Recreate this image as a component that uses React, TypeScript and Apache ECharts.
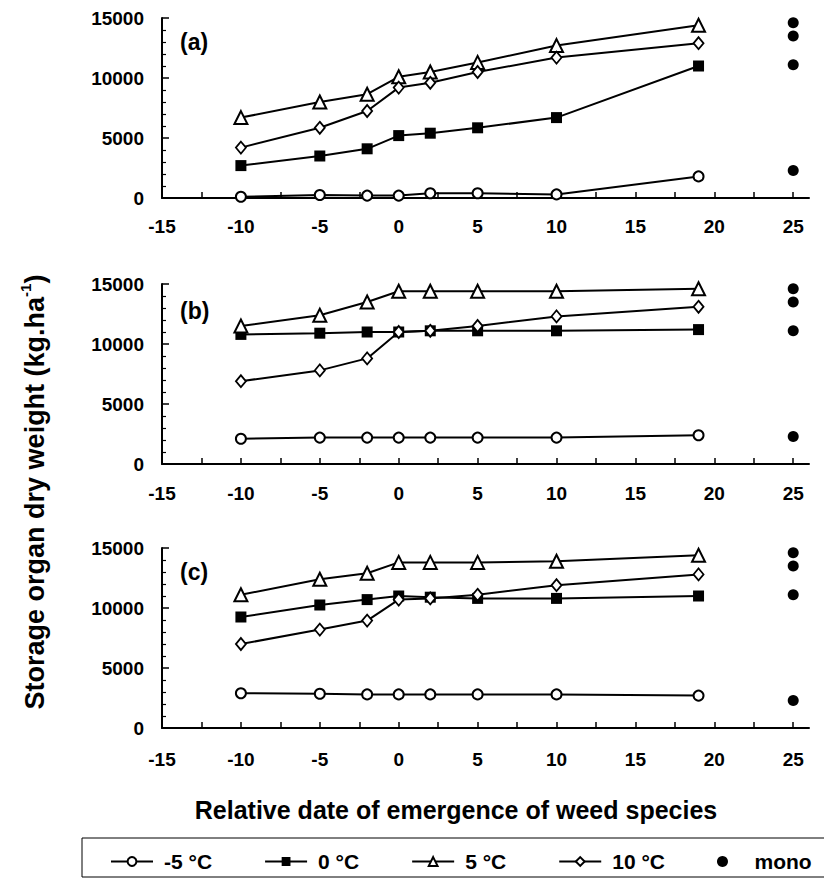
import React, { useEffect, useRef } from 'react';
import * as echarts from 'echarts';

// Relative date of emergence (x) for the temperature series
const xDates = [-10, -5, -2, 0, 2, 5, 10, 19];
const monoX = 25;
const monoValues = [14600, 13500, 11100, 2300];

const seriesNames = ['-5 °C', '0 °C', '5 °C', '10 °C'];
const monoName = 'mono';
const panelLabels = ['(a)', '(b)', '(c)'];

// Panel (a)
const aMinus5 = [100, 250, 200, 200, 400, 400, 300, 1800];
const aZero = [2700, 3500, 4100, 5200, 5400, 5850, 6700, 11000];
const aFive = [6700, 8000, 8650, 10100, 10500, 11300, 12700, 14400];
const aTen = [4200, 5850, 7250, 9200, 9600, 10500, 11700, 12900];
// Panel (b)
const bMinus5 = [2100, 2200, 2200, 2200, 2200, 2200, 2200, 2400];
const bZero = [10800, 10900, 11000, 11000, 11100, 11100, 11100, 11200];
const bFive = [11500, 12400, 13500, 14400, 14400, 14400, 14400, 14600];
const bTen = [6900, 7800, 8800, 11000, 11100, 11500, 12300, 13100];
// Panel (c)
const cMinus5 = [2900, 2850, 2800, 2800, 2800, 2800, 2800, 2700];
const cZero = [9250, 10250, 10700, 11000, 10900, 10800, 10800, 11000];
const cFive = [11100, 12400, 12900, 13800, 13800, 13800, 13900, 14400];
const cTen = [7000, 8200, 8950, 10700, 10800, 11100, 11900, 12800];

const xLabelValues = [-15, -10, -5, 0, 5, 10, 15, 20, 25];
const xTickValues = [-12.5, -10, -7.5, -5, -2.5, 0, 2.5, 5, 7.5, 10, 12.5, 15, 17.5, 20, 22.5, 25];

const xTitle = 'Relative date of emergence of weed species';
const yTitleMain = 'Storage organ dry weight (kg.ha';
const yTitleSup = '-1';

export default function App() {
  const ref = useRef<HTMLDivElement>(null);

  useEffect(() => {
    const chart = echarts.init(ref.current!, null, { renderer: 'svg' });
    const FONT = '"Liberation Sans", Arial, Helvetica, sans-serif';

    const panels = [
      { top: 18, data: [aMinus5, aZero, aFive, aTen], labelY: 42, margin: 19 },
      { top: 284, data: [bMinus5, bZero, bFive, bTen], labelY: 311, margin: 20 },
      { top: 548, data: [cMinus5, cZero, cFive, cTen], labelY: 572, margin: 22 },
    ];
    const gridLeft = 162;
    const gridWidth = 647;
    const gridHeight = 180;

    const symStyles: any[] = [
      { symbol: 'circle', symbolSize: 10, itemStyle: { color: '#fff', borderColor: '#000', borderWidth: 2 } },
      { symbol: 'rect', symbolSize: 11, itemStyle: { color: '#000', borderColor: '#000', borderWidth: 0 } },
      { symbol: 'triangle', symbolSize: 13, itemStyle: { color: '#fff', borderColor: '#000', borderWidth: 2 } },
      { symbol: 'diamond', symbolSize: [10, 12], itemStyle: { color: '#fff', borderColor: '#000', borderWidth: 1.8 } },
    ];

    const grids: any[] = [];
    const xAxes: any[] = [];
    const yAxes: any[] = [];
    const series: any[] = [];
    const graphics: any[] = [];

    panels.forEach((p, pi) => {
      grids.push({ left: gridLeft, top: p.top, width: gridWidth, height: gridHeight, containLabel: false });
      xAxes.push({
        type: 'value',
        gridIndex: pi,
        min: -15,
        max: 26,
        axisLine: { show: true, onZero: false, lineStyle: { color: '#000', width: 2 } },
        axisTick: { show: true, inside: true, length: 6, customValues: xTickValues, lineStyle: { color: '#000', width: 1.5 } },
        axisLabel: {
          show: true,
          customValues: xLabelValues,
          margin: p.margin,
          color: '#000',
          fontSize: 19,
          fontWeight: 'bold',
          fontFamily: FONT,
          formatter: (v: number) => String(v),
        },
        splitLine: { show: false },
      });
      yAxes.push({
        type: 'value',
        gridIndex: pi,
        min: 0,
        max: 15000,
        interval: 5000,
        axisLine: { show: true, onZero: false, lineStyle: { color: '#000', width: 2 } },
        axisTick: { show: true, inside: true, length: 7, lineStyle: { color: '#000', width: 1.5 } },
        minorTick: { show: true, splitNumber: 5, length: 4, lineStyle: { color: '#000', width: 1.2 } },
        axisLabel: {
          color: '#000',
          fontSize: 19,
          fontWeight: 'bold',
          fontFamily: FONT,
          margin: 18,
          formatter: (v: number) => String(v),
        },
        splitLine: { show: false },
        minorSplitLine: { show: false },
      });
      p.data.forEach((vals, si) => {
        series.push({
          name: seriesNames[si],
          type: 'line',
          xAxisIndex: pi,
          yAxisIndex: pi,
          data: xDates.map((x, i) => [x, vals[i]]),
          symbol: symStyles[si].symbol,
          symbolSize: symStyles[si].symbolSize,
          showAllSymbol: true,
          itemStyle: symStyles[si].itemStyle,
          lineStyle: { color: '#000', width: 2 },
          emphasis: { disabled: true },
          z: 2 + si,
        });
      });
      series.push({
        name: monoName,
        type: 'scatter',
        xAxisIndex: pi,
        yAxisIndex: pi,
        data: monoValues.map((v) => [monoX, v]),
        symbol: 'circle',
        symbolSize: 11,
        itemStyle: { color: '#000', opacity: 1 },
        emphasis: { disabled: true },
      });
      graphics.push({
        type: 'text',
        x: 180,
        y: p.labelY,
        style: { text: panelLabels[pi], font: `bold 23px ${FONT}`, fill: '#000', textAlign: 'left', textVerticalAlign: 'middle' },
      });
    });

    graphics.push({
      type: 'text',
      x: 456,
      y: 810,
      style: { text: xTitle, font: `bold 25px ${FONT}`, fill: '#000', textAlign: 'center', textVerticalAlign: 'middle' },
    });
    graphics.push({
      type: 'text',
      x: 33,
      y: 492,
      rotation: Math.PI / 2,
      style: {
        text: `{m|${yTitleMain}}{s|${yTitleSup}}{m|)}`,
        textAlign: 'center',
        textVerticalAlign: 'middle',
        rich: {
          m: { fontSize: 27, fontWeight: 'bold', fontFamily: FONT, fill: '#000', lineHeight: 30, verticalAlign: 'bottom' },
          s: { fontSize: 15, fontWeight: 'bold', fontFamily: FONT, fill: '#000', lineHeight: 30, verticalAlign: 'top' },
        },
      },
    });
    graphics.push({
      type: 'rect',
      shape: { x: 82, y: 838, width: 760, height: 39 },
      style: { fill: 'none', stroke: '#000', lineWidth: 1 },
      silent: true,
    });

    chart.setOption({
      animation: false,
      backgroundColor: '#fff',
      grid: grids,
      xAxis: xAxes,
      yAxis: yAxes,
      series,
      graphic: graphics,
      legend: {
        data: [...seriesNames, monoName],
        left: 105,
        top: 846,
        itemWidth: 42,
        itemHeight: 11,
        itemGap: 52,
        selectedMode: false,
        textStyle: { color: '#000', fontSize: 21, fontWeight: 'bold', fontFamily: FONT, padding: [0, 0, 0, 6] },
      },
    });

    return () => chart.dispose();
  }, []);

  return (
    <div
      ref={ref}
      style={{ position: 'fixed', left: 0, top: 0, width: 824, height: 879, background: '#fff' }}
    />
  );
}
